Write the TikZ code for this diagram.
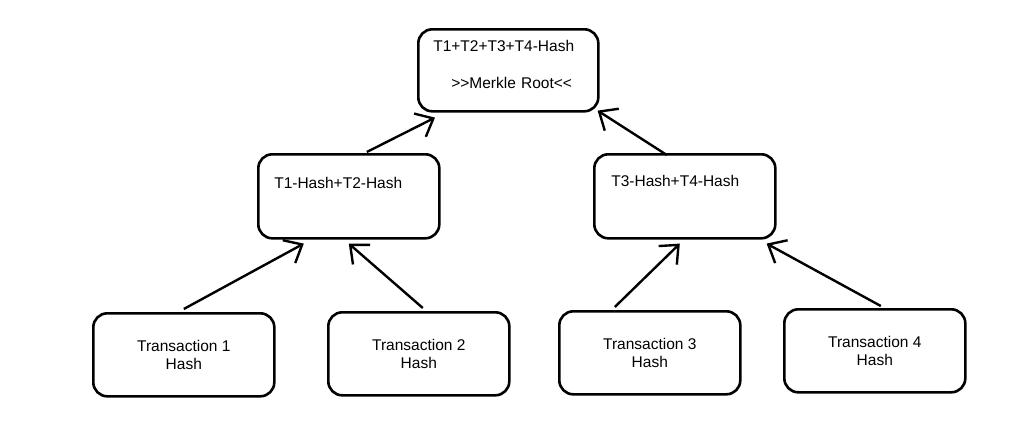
\documentclass[tikz,border=0pt]{standalone}
\usepackage{fontspec}
\setmainfont{Liberation Sans}
\usetikzlibrary{arrows.meta,calc}

\begin{document}
\begin{tikzpicture}[
  x=1pt, y=-1pt,
  font=\fontsize{15.5}{18}\selectfont,
  >={Straight Barb[length=15pt,width=26pt]},
  hashbox/.style={draw, rounded corners=14pt, line width=2.6pt, anchor=north west, inner ysep=0pt, align=left},
  leafbox/.style={draw, rounded corners=14pt, line width=2.6pt, anchor=north west, minimum width=181pt, minimum height=83pt, align=center},
  link/.style={->, line width=2.4pt}
]
\useasboundingbox (0,0) rectangle (1024,442);

% root of the tree
\node[hashbox, inner xsep=15pt, text width=150pt, text height=22.5pt, text depth=59.5pt] (root) at (417,28) {T1+T2+T3+T4-Hash\\[19pt]\hspace*{18pt}>\kern0pt>Merkle Root<\kern0pt<};

% middle level
\node[hashbox, inner xsep=16pt, text width=149pt, text height=34.5pt, text depth=49.5pt] (hl) at (257,153) {T1-Hash+T2-Hash};
\node[hashbox, inner xsep=17pt, text width=147pt, text height=32.5pt, text depth=51.5pt] (hr) at (593,153) {T3-Hash+T4-Hash};

% leaves
\node[leafbox] (t1) at (92,312) {Transaction 1\\Hash};
\node[leafbox] (t2) at (327,311) {Transaction 2\\Hash};
\node[leafbox] (t3) at (558,310) {Transaction 3\\Hash};
\node[leafbox] (t4) at (783,308) {Transaction 4\\Hash};

\draw[link] ($(t1.north)+(0,-3)$) -- ($(hl.south)+(-45,4)$);
\draw[link] ($(t2.north)+(4,-3)$) -- ($(hl.south)+(0,4)$);
\draw[link] ($(t3.north)+(-35,-3)$) -- ($(hr.south)+(-5,4)$);
\draw[link] ($(t4.north)+(6,-2)$) -- ($(hr.south east)+(-10,4)$);
\draw[link] ($(hl.north)+(18,-1)$) -- ($(root.south west)+(18,5)$);
\draw[link] ($(hr.north)+(-18,2)$) -- ($(root.south east)+(-2,-2)$);

\end{tikzpicture}
\end{document}
